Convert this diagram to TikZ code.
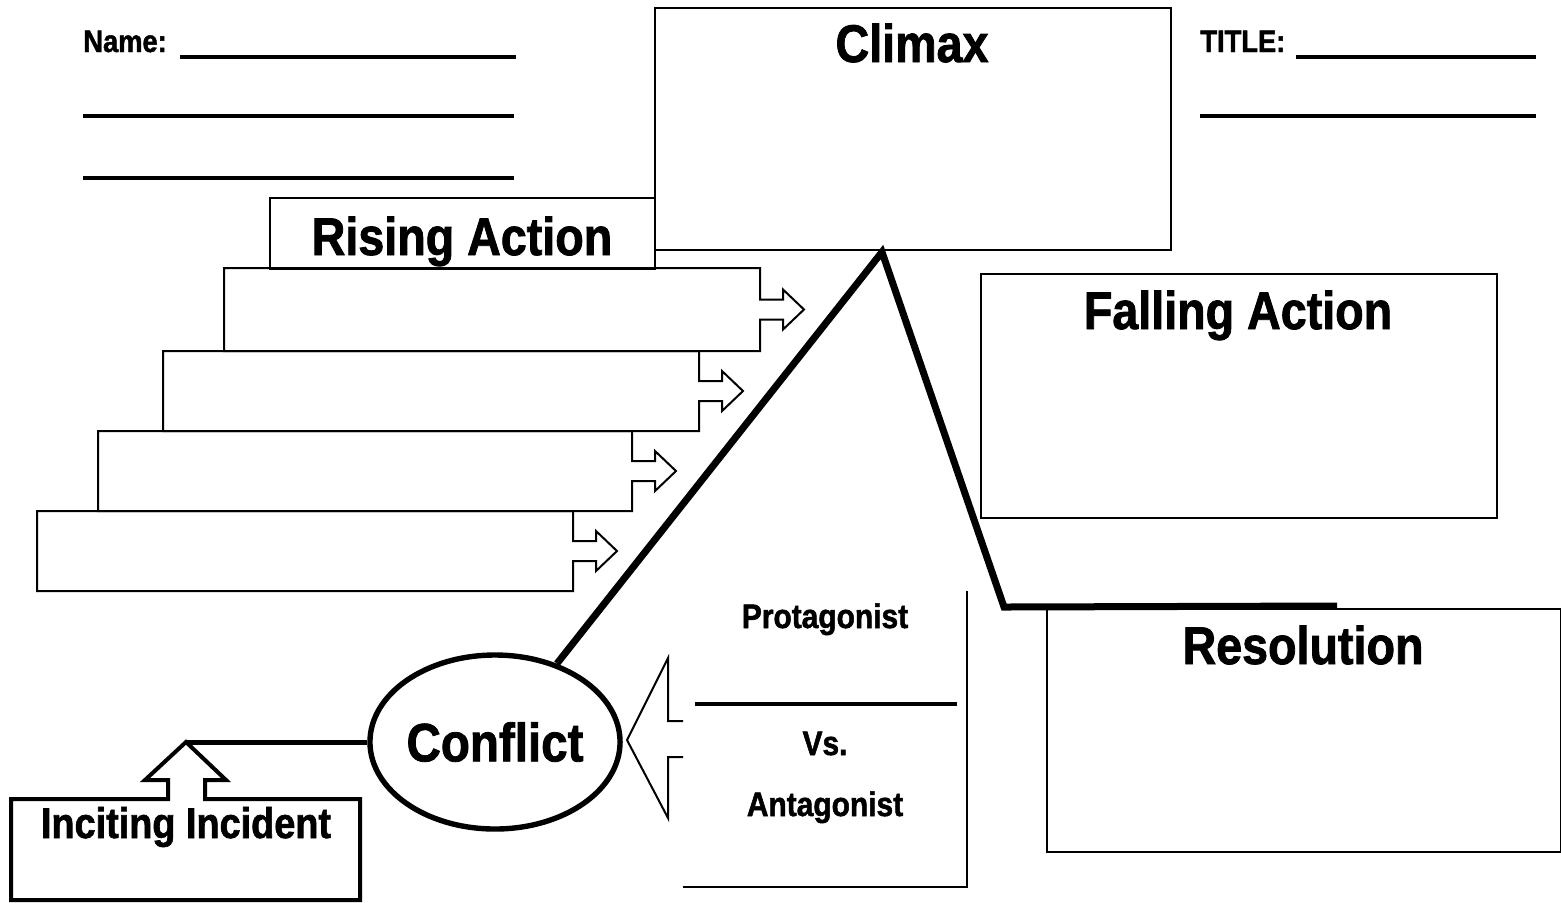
\documentclass[tikz,border=0pt]{standalone}
\usepackage{fontspec}
\setmainfont{Liberation Sans}[FakeStretch=0.88, BoldFeatures={FakeBold=1.5}]
\usetikzlibrary{shapes.geometric}
\tikzset{
  box/.style={draw, line width=1pt, inner sep=0pt, anchor=north west},
  stepline/.style={draw, line width=1pt, line join=miter},
  ttl/.style={font=\fontsize{26.5}{28}\selectfont\bfseries, anchor=base, inner sep=0pt},
  small/.style={font=\fontsize{17}{19}\selectfont\bfseries, anchor=base, inner sep=0pt},
  header/.style={font=\fontsize{15.5}{17}\selectfont\bfseries, anchor=base west, inner sep=0pt},
  mid/.style={font=\fontsize{21.5}{23}\selectfont\bfseries, anchor=base, inner sep=0pt},
  writeline/.style={line width=1.8pt},
  plotline/.style={line width=3.5pt, line join=miter},
  incline/.style={line width=2.5pt},
  incbox/.style={line width=2pt, line join=miter},
  thinarrow/.style={line width=1pt, line join=miter}
}
\newcommand\stepbox[5]{% name, left, top, right, bottom (pixels)
  \pgfmathsetmacro\cy{(#3+#5)/2}
  \draw[stepline] (#2,#3) coordinate (#1)
    -- (#4,#3) -- (#4,{\cy-10}) -- ({#4+23},{\cy-10}) -- ({#4+23},{\cy-20})
    -- ({#4+44},\cy) -- ({#4+23},{\cy+20}) -- ({#4+23},{\cy+10})
    -- (#4,{\cy+10}) -- (#4,#5) -- (#2,#5) -- cycle;
}
\begin{document}
\begin{tikzpicture}[x=0.5pt, y=-0.5pt]
\useasboundingbox (0,0) rectangle (1561,902);

% header text and writing lines
\node[header] (name) at (83,52) {Name:};
\coordinate (n1a) at (180,57); \coordinate (n1b) at (516,57);
\coordinate (n2a) at (83,116); \coordinate (n2b) at (514,116);
\coordinate (n3a) at (83,178); \coordinate (n3b) at (514,178);
\draw[writeline] (n1a) -- (n1b);
\draw[writeline] (n2a) -- (n2b);
\draw[writeline] (n3a) -- (n3b);

\node[header] (title) at (1200,52) {TITLE:};
\coordinate (t1a) at (1296,57); \coordinate (t1b) at (1536,57);
\coordinate (t2a) at (1200,116); \coordinate (t2b) at (1536,116);
\draw[writeline] (t1a) -- (t1b);
\draw[writeline] (t2a) -- (t2b);

% main boxes
\node[box, minimum width=258pt, minimum height=121pt] (climax) at (654,7) {};
\node[ttl] (tclimax) at (912,62) {Climax};

\node[box, minimum width=192.5pt, minimum height=35.5pt] (rising) at (269,197) {};
\node[ttl] (trising) at (462,255) {Rising Action};

\node[box, minimum width=258pt, minimum height=122pt] (falling) at (980,273) {};
\node[ttl] (tfalling) at (1238,329) {Falling Action};

\node[box, minimum width=257pt, minimum height=121.5pt] (resolution) at (1046,608) {};
\node[ttl] (tres) at (1303,664) {Resolution};

% rising action step boxes with arrows
\stepbox{s1}{224}{268}{760}{351}
\stepbox{s2}{163}{351}{699}{431}
\stepbox{s3}{98}{431}{632}{511}
\stepbox{s4}{37}{511}{573}{591}

% conflict
\node[draw, ellipse, line width=2.7pt, minimum width=120pt, minimum height=87pt, inner sep=0pt,
      font=\fontsize{27}{29}\selectfont\bfseries] (conf) at (495,742) {Conflict};

% plot line
\coordinate (peak) at (882,252);
\coordinate (valley) at (1004,607);
\coordinate (resend) at (1337,606);
\draw[plotline] (conf) -- (peak) -- (valley) -- (resend);

% inciting incident
\coordinate (inctip) at (186,742);
\draw[incline] (conf.west) -- (inctip);
\draw[incbox] (11,799) coordinate (incbox) -- (168,799) -- (168,780) -- (145,780) -- (inctip)
  -- (226,780) -- (205,780) -- (205,799) -- (360,799) -- (360,900) -- (11,900) -- cycle;
\node[mid] (tinc) at (186,838) {Inciting Incident};

% protagonist vs antagonist
\coordinate (la1) at (683,721);
\coordinate (latip) at (627,740);
\coordinate (la2) at (683,757);
\draw[thinarrow] (la1) -- (668,721) -- (668,658) -- (latip) -- (668,818) -- (668,757) -- (la2);

\coordinate (pr1) at (967,591);
\coordinate (pr2) at (967,887);
\coordinate (pr3) at (683,887);
\draw[line width=1pt] (pr1) -- (pr2) -- (pr3);
\coordinate (pl1) at (695,704);
\coordinate (pl2) at (957,704);
\draw[line width=1.6pt] (pl1) -- (pl2);

\node[small] (prot) at (825,628) {Protagonist};
\node[small] (vs) at (825,755) {Vs.};
\node[small] (ant) at (825,816) {Antagonist};
\end{tikzpicture}
\end{document}
